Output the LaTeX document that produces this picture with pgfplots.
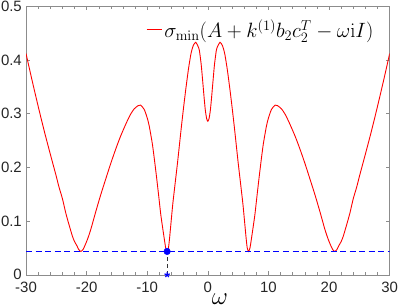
\documentclass[border=0pt]{standalone}
\usepackage[no-math]{fontspec}
\setmainfont{Liberation Sans}
\usepackage{pgfplots}
\pgfplotsset{compat=1.18}
\definecolor{mred}{rgb}{1,0,0}
\definecolor{mblue}{rgb}{0,0,1}
\begin{document}
\begin{tikzpicture}
\begin{axis}[
  scale only axis,
  width=363bp, height=268bp,
  xmin=-30, xmax=30, ymin=0, ymax=0.5,
  xtick={-30,-20,...,30},
  ytick={0,0.1,...,0.5},
  minor x tick num=4,
  tick align=inside,
  major tick length=4bp,
  minor tick length=2.5bp,
  axis line style={black!45},
  every tick/.style={black!45},
  tick label style={font=\fontsize{15}{17}\selectfont, text=black!85, inner sep=1bp},
  yticklabel style={xshift=-3bp},
  xticklabel style={yshift=-6bp},
  /pgf/number format/assume math mode=true,
  /pgf/number format/fixed,
  xlabel={$\omega$},
  xlabel style={font=\fontsize{24}{26}\selectfont, at={(axis description cs:0.5,0)},
    anchor=north, inner sep=0pt, inner ysep=3bp, yshift=-16bp, xshift=12bp},
  clip mode=individual,
  legend style={at={(0.964,0.914)}, anchor=east, draw=none, fill=none,
    font=\fontsize{20}{22}\selectfont, inner sep=1pt},
  legend image code/.code={\draw[mred, line width=1pt] (0bp,0bp) -- (15bp,0bp);},
  legend cell align=left,
]
\addplot[mred, line width=0.9pt, smooth, tension=0.4] coordinates {
(-30,0.412) (-29,0.362) (-28,0.314) (-27,0.268) (-26,0.225) (-25,0.183)
(-24.55,0.163) (-24,0.142) (-23.44,0.115) (-23,0.097) (-22.35,0.072) (-22,0.062)
(-21.6,0.054) (-21.3,0.047) (-20.95,0.0435) (-20.6,0.047) (-20.3,0.054)
(-19.86,0.066) (-19.3,0.085) (-18.48,0.118) (-17.7,0.148) (-16.83,0.179)
(-16,0.208) (-15.17,0.235) (-14.4,0.258) (-13.52,0.281) (-12.8,0.298)
(-12.15,0.309) (-11.5,0.315) (-11.1,0.316) (-10.5,0.308) (-10.0,0.292)
(-9.67,0.277) (-9.12,0.241) (-8.56,0.191) (-8.1,0.146) (-7.74,0.110)
(-7.19,0.067) (-6.95,0.050) (-6.72,0.0435) (-6.5,0.050) (-6.3,0.070)
(-5.81,0.129) (-5.4,0.170) (-4.99,0.210) (-4.43,0.269) (-4.0,0.312)
(-3.6,0.349) (-3.2,0.383) (-2.78,0.412) (-2.4,0.427) (-2.0,0.433)
(-1.6,0.425) (-1.4,0.418) (-1.1,0.392) (-0.86,0.362) (-0.6,0.328)
(-0.41,0.306) (-0.2,0.291) (0,0.286)
(0.2,0.291) (0.41,0.306) (0.6,0.328) (0.86,0.362) (1.1,0.392) (1.4,0.418)
(1.6,0.425) (2.0,0.433) (2.4,0.427) (2.78,0.412) (3.2,0.383) (3.6,0.349)
(4.0,0.312) (4.43,0.269) (4.99,0.210) (5.4,0.170) (5.81,0.129) (6.3,0.070)
(6.5,0.050) (6.72,0.0435) (6.95,0.050) (7.19,0.067) (7.74,0.110) (8.1,0.146)
(8.56,0.191) (9.12,0.241) (9.67,0.277) (10.0,0.292) (10.5,0.308) (11.1,0.316)
(11.5,0.315) (12.15,0.309) (12.8,0.298) (13.52,0.281) (14.4,0.258)
(15.17,0.235) (16,0.208) (16.83,0.179) (17.7,0.148) (18.48,0.118)
(19.3,0.085) (19.86,0.066) (20.3,0.054) (20.6,0.047) (20.95,0.0435)
(21.3,0.047) (21.6,0.054) (22,0.062) (22.35,0.072) (23,0.097)
(23.44,0.115) (24,0.142) (24.55,0.163) (25,0.183) (26,0.225) (27,0.268)
(28,0.314) (29,0.362) (30,0.412)
};
\addlegendentry{$\sigma_{\min}(A+k^{(1)}b_2c_2^T-\omega\mathrm{i}I)$}
\addplot[mblue, line width=1.1pt, dash pattern=on 6bp off 3.5bp, forget plot]
  coordinates {(-30,0.0435) (30,0.0435)};
\addplot[black!80, line width=0.8pt, dash pattern=on 4bp off 3bp, forget plot]
  coordinates {(-6.72,0) (-6.72,0.0435)};
\addplot[mblue, only marks, mark=*, mark size=3.3pt, forget plot]
  coordinates {(-6.72,0.0435)};
\addplot[mblue, only marks, mark=star, mark size=2.8pt, line width=1.2pt, forget plot]
  coordinates {(-6.72,0)};
\end{axis}
\end{tikzpicture}
\end{document}
